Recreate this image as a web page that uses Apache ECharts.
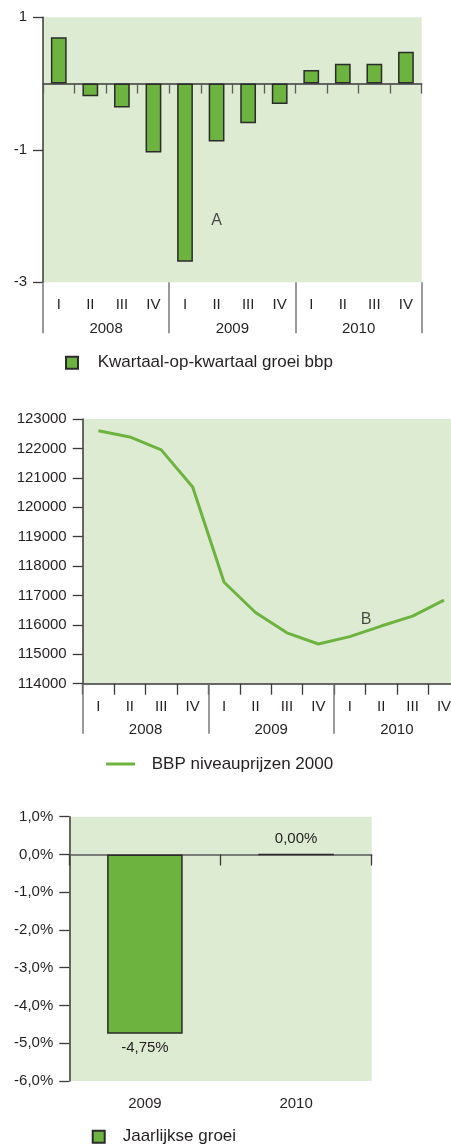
<!DOCTYPE html>
<html>
<head>
<meta charset="utf-8">
<style>
  html, body { margin: 0; padding: 0; background: #ffffff; overflow: hidden; }
  /* the middle chart's quarter axis runs slightly past the right edge of the page */
  #main { width: 460px; height: 1146px; }
</style>
<script src="https://cdn.jsdelivr.net/npm/echarts@6/dist/echarts.min.js"></script>
</head>
<body>
<div id="main"></div>
<script>
// Quarterly categories and year groups
const quarters = ['I', 'II', 'III', 'IV', 'I', 'II', 'III', 'IV', 'I', 'II', 'III', 'IV'];
const years = ['2008', '2009', '2010'];

// Quarter-on-quarter GDP growth (%)
const qoqGrowth = [0.70, -0.19, -0.36, -1.04, -2.69, -0.875, -0.60, -0.31, 0.205, 0.30, 0.30, 0.48];

// GDP level, constant 2000 prices
const gdpLevel = [122600, 122390, 121950, 120690, 117450, 116420, 115730, 115350, 115600, 115960, 116300, 116840];

// Annual growth (%)
const annualYears = ['2009', '2010'];
const annualGrowth = [-4.75, 0.00];

// Annotation letters: [category index, value, letter]
const noteA = [5, -2.07, 'A'];
const noteB = [9, 116170, 'B'];

const FONT = "'Liberation Sans', Arial, sans-serif";
const TXT = '#231f20';
const BG = '#deebd3';
const GREEN = '#6db33f';
const EDGE = '#2b2b2b';
const AXIS = '#3a3a3a';
const SEP = '#7a7a7a';

const chart = echarts.init(document.getElementById('main'), null, { renderer: 'canvas' });

const commaPct = (v, d) => v.toFixed(d).replace('.', ',') + '%';

const yBase = (gridIndex, extra) => Object.assign({
  type: 'value',
  gridIndex: gridIndex,
  splitLine: { show: false },
  axisLine: { show: true, lineStyle: { color: AXIS, width: 1.5 } },
  axisTick: { show: true, length: 10, lineStyle: { color: AXIS, width: 1.3 } },
  axisLabel: { color: TXT, fontFamily: FONT, fontSize: 15, margin: 16, formatter: v => String(v) }
}, extra);

const option = {
  animation: false,
  backgroundColor: '#ffffff',
  textStyle: { fontFamily: FONT, color: TXT },
  grid: [
    { left: 43, top: 17.3, width: 378.7, height: 265, show: true, backgroundColor: BG, borderWidth: 0, containLabel: false },
    { left: 82.7, top: 419, width: 377, height: 264.7, show: true, backgroundColor: BG, borderWidth: 0, containLabel: false },
    { left: 69.3, top: 816.7, width: 302.4, height: 264.3, show: true, backgroundColor: BG, borderWidth: 0, containLabel: false }
  ],
  xAxis: [
    // 0: chart 1 zero line with quarter boundary ticks
    {
      type: 'category', gridIndex: 0, data: quarters, position: 'bottom',
      axisLine: { show: true, onZero: true, lineStyle: { color: AXIS, width: 1.5 } },
      axisTick: { show: true, length: 10, lineStyle: { color: '#5a5a5a', width: 1.3 } },
      axisLabel: { show: false }, splitLine: { show: false }
    },
    // 1: chart 1 quarter labels
    {
      type: 'category', gridIndex: 0, data: quarters, position: 'bottom',
      axisLine: { show: false, onZero: false }, axisTick: { show: false },
      axisLabel: { color: TXT, fontFamily: FONT, fontSize: 15, margin: 15.5, interval: 0 }
    },
    // 2: chart 1 year groups
    {
      type: 'category', gridIndex: 0, data: years, position: 'bottom',
      axisLine: { show: false, onZero: false },
      axisTick: { show: true, length: 51, lineStyle: { color: SEP, width: 1.5 } },
      axisLabel: { color: TXT, fontFamily: FONT, fontSize: 15, margin: 39.5, interval: 0 }
    },
    // 3: chart 2 quarter axis
    {
      type: 'category', gridIndex: 1, data: quarters, position: 'bottom',
      axisLine: { show: true, onZero: false, lineStyle: { color: AXIS, width: 1.5 } },
      axisTick: { show: true, length: 11, lineStyle: { color: AXIS, width: 1.3 } },
      axisLabel: { color: TXT, fontFamily: FONT, fontSize: 15, margin: 16, interval: 0 }
    },
    // 4: chart 2 year groups
    {
      type: 'category', gridIndex: 1, data: years, position: 'bottom',
      axisLine: { show: false, onZero: false },
      axisTick: { show: true, length: 50, lineStyle: { color: SEP, width: 1.5 } },
      axisLabel: { color: TXT, fontFamily: FONT, fontSize: 15, margin: 39, interval: 0 }
    },
    // 5: chart 3 zero line
    {
      type: 'category', gridIndex: 2, data: annualYears, position: 'bottom',
      axisLine: { show: true, onZero: true, lineStyle: { color: '#5a5a5a', width: 1.5 } },
      axisTick: { show: true, length: 11, lineStyle: { color: AXIS, width: 1.3 } },
      axisLabel: { show: false }
    },
    // 6: chart 3 year labels
    {
      type: 'category', gridIndex: 2, data: annualYears, position: 'bottom',
      axisLine: { show: false, onZero: false }, axisTick: { show: false },
      axisLabel: { color: TXT, fontFamily: FONT, fontSize: 15, margin: 15, interval: 0 }
    }
  ],
  yAxis: [
    yBase(0, { min: -3, max: 1, interval: 2 }),
    yBase(1, { min: 114000, max: 123000, interval: 1000 }),
    yBase(2, {
      min: -6, max: 1, interval: 1,
      axisLabel: { color: TXT, fontFamily: FONT, fontSize: 15, margin: 16, formatter: v => commaPct(v, 1) }
    })
  ],
  legend: [
    {
      data: ['Kwartaal-op-kwartaal groei bbp'], left: 65, top: 354.2, padding: 0,
      icon: 'rect', itemWidth: 12, itemHeight: 12,
      textStyle: { color: TXT, fontFamily: FONT, fontSize: 17, lineHeight: 17, padding: [0, 0, 0, 14.7] }
    },
    {
      data: ['BBP niveauprijzen 2000'], left: 106, top: 755.5, padding: 0,
      icon: 'rect', itemWidth: 29, itemHeight: 3,
      textStyle: { color: TXT, fontFamily: FONT, fontSize: 17, lineHeight: 17, padding: [0, 0, 0, 11.7] }
    },
    {
      data: ['Jaarlijkse groei'], left: 91.7, top: 1128.2, padding: 0,
      icon: 'rect', itemWidth: 12, itemHeight: 12,
      textStyle: { color: TXT, fontFamily: FONT, fontSize: 17, lineHeight: 17, padding: [0, 0, 0, 13] }
    }
  ],
  series: [
    {
      name: 'Kwartaal-op-kwartaal groei bbp', type: 'bar', xAxisIndex: 0, yAxisIndex: 0,
      data: qoqGrowth, barWidth: '50%',
      itemStyle: { color: GREEN, borderColor: EDGE, borderWidth: 1.5 }
    },
    {
      type: 'scatter', xAxisIndex: 0, yAxisIndex: 0, silent: true,
      data: [[noteA[0], noteA[1]]], symbolSize: 1, itemStyle: { color: 'rgba(0,0,0,0)' },
      label: { show: true, position: 'inside', formatter: noteA[2], color: TXT, fontFamily: FONT, fontSize: 16 }
    },
    {
      name: 'BBP niveauprijzen 2000', type: 'line', xAxisIndex: 3, yAxisIndex: 1,
      data: gdpLevel, symbol: 'none', smooth: false,
      lineStyle: { color: GREEN, width: 3 }, itemStyle: { color: GREEN }
    },
    {
      type: 'scatter', xAxisIndex: 3, yAxisIndex: 1, silent: true,
      data: [[noteB[0], noteB[1]]], symbolSize: 1, itemStyle: { color: 'rgba(0,0,0,0)' },
      label: { show: true, position: 'inside', offset: [-15, 0], formatter: noteB[2], color: TXT, fontFamily: FONT, fontSize: 16 }
    },
    {
      name: 'Jaarlijkse groei', type: 'bar', xAxisIndex: 5, yAxisIndex: 2,
      data: annualGrowth.map(v => ({
        value: v,
        label: { position: v < 0 ? 'bottom' : 'top' }
      })),
      barWidth: '50%',
      itemStyle: { color: GREEN, borderColor: EDGE, borderWidth: 1.5 },
      label: {
        show: true, distance: 7, color: TXT, fontFamily: FONT, fontSize: 15,
        formatter: p => commaPct(p.value, 2)
      }
    }
  ]
};

chart.setOption(option);
</script>
</body>
</html>
